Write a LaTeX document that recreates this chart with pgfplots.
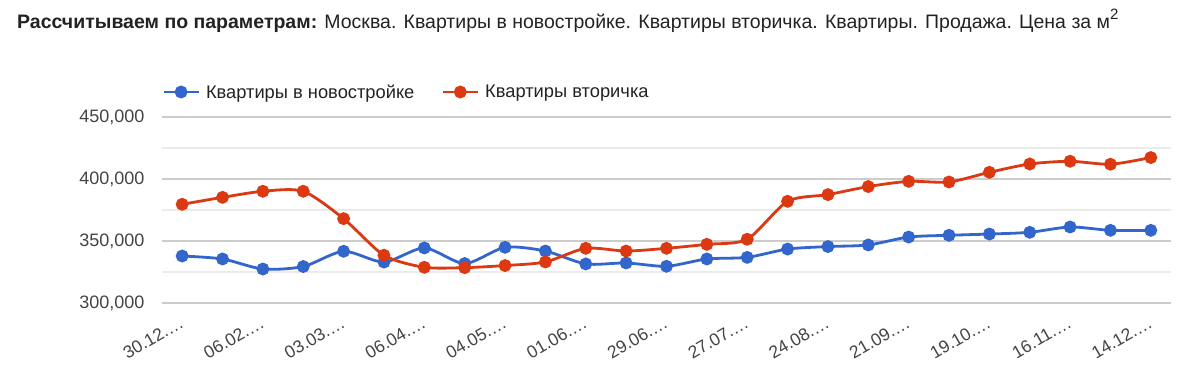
\documentclass[border=0pt]{standalone}
\usepackage{fontspec}
\setmainfont{Liberation Sans}
\usepackage{pgfplots}
\pgfplotsset{compat=1.18}
\definecolor{gblue}{HTML}{3366CC}
\definecolor{gred}{HTML}{DC3912}
\definecolor{majgrid}{HTML}{CCCCCC}
\definecolor{mingrid}{HTML}{EBEBEB}
\definecolor{txt}{HTML}{444444}
\definecolor{ttl}{HTML}{222222}

\pgfplotstableread{
x y
0 337900
1 335500
2 327400
3 329400
4 341700
5 333000
6 344400
7 331800
8 344900
9 341900
10 331500
11 332300
12 329600
13 335500
14 336800
15 343500
16 345500
17 346800
18 353200
19 354600
20 355600
21 357000
22 361300
23 358600
24 358600
}\newbuild

\pgfplotstableread{
x y
0 379600
1 385200
2 390100
3 390100
4 368000
5 338500
6 328800
7 328500
8 330200
9 333100
10 344100
11 341900
12 344100
13 347300
14 351400
15 382000
16 387400
17 393900
18 398100
19 397600
20 405400
21 412100
22 414300
23 411900
24 417300
}\secondary

\begin{document}
\begin{tikzpicture}
\useasboundingbox (0,0) rectangle (1200pt,387pt);
\node[anchor=base west, inner sep=0pt, text=ttl] at (17pt,358pt) {\fontsize{19.5}{23}\selectfont\textbf{Рассчитываем по параметрам:} Москва. Квартиры в новостройке. Квартиры вторичка. Квартиры. Продажа. Цена за м\raisebox{0.5em}{\fontsize{15}{15}\selectfont 2}};
\begin{axis}[
  at={(162pt,84pt)}, anchor=south west,
  width=1009pt, height=186pt, scale only axis,
  xmin=-0.5, xmax=24.5, ymin=300000, ymax=450000,
  ytick={300000,350000,400000,450000},
  minor ytick={325000,375000,425000},
  ymajorgrids, yminorgrids,
  major grid style={majgrid, line width=1.3pt},
  minor grid style={mingrid, line width=1.3pt},
  axis line style={draw=none},
  major tick length=0pt, minor tick length=0pt,
  xtick={0,2,...,24},
  xticklabels={30.12.…,06.02.…,03.03.…,06.04.…,04.05.…,01.06.…,29.06.…,27.07.…,24.08.…,21.09.…,19.10.…,16.11.…,14.12.…},
  x tick label style={rotate=30, anchor=north east, font=\fontsize{17.5}{17.5}\selectfont, text=txt, xshift=-6pt, yshift=-6pt},
  y tick label style={font=\fontsize{18}{18}\selectfont, text=txt, xshift=-14pt},
  scaled y ticks=false,
  /pgf/number format/fixed,
  /pgf/number format/assume math mode=true,
  /pgf/number format/1000 sep={,},
  legend columns=2,
  legend style={at={(0,1)}, anchor=west, yshift=25pt, draw=none, fill=none, inner sep=0pt,
    font=\fontsize{18.3}{18}\selectfont, text=ttl,
    /tikz/every odd column/.append style={column sep=4pt},
    /tikz/every even column/.append style={column sep=25pt}},
  legend cell align=left,
  legend image code/.code={\draw[mark repeat=2,mark phase=2,#1] plot coordinates {(0pt,0pt) (17.5pt,0pt) (35pt,0pt)};},
  clip=false,
]
\addplot[gblue, line width=2.8pt, smooth, tension=0.45, mark=*, mark size=5pt, mark options={solid}] table[x=x,y=y] {\newbuild};
\addlegendentry{Квартиры в новостройке}
\addplot[gred, line width=2.8pt, smooth, tension=0.45, mark=*, mark size=5pt, mark options={solid}] table[x=x,y=y] {\secondary};
\addlegendentry{Квартиры вторичка}
\end{axis}
\end{tikzpicture}
\end{document}
